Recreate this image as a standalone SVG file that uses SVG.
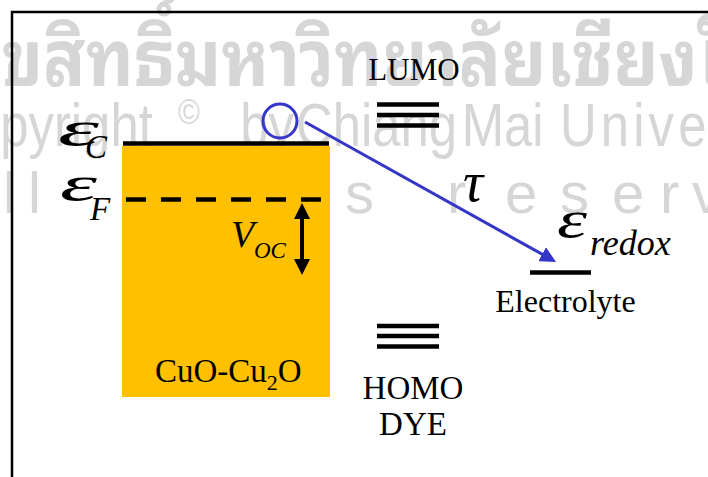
<svg xmlns="http://www.w3.org/2000/svg" width="708" height="477" viewBox="0 0 708 477">
  <style>
    .wm { fill: #d6d6d6; font-family: "Liberation Sans", Arial, sans-serif; }
    .wmth { fill: #d6d6d6; font-family: "Noto Sans Thai Looped", "Noto Serif Thai", Loma, Garuda, Norasi, "Noto Sans Thai", "Liberation Sans", sans-serif; font-weight: bold; }
    .lbl { font-family: "Liberation Serif", "Times New Roman", serif; fill: #000; }
    .it { font-family: "Liberation Serif", "Times New Roman", serif; font-style: italic; fill: #000; }
    .lvl { stroke: #000; stroke-width: 4.5; fill: none; }
  </style>
  <defs>
    <marker id="headBlue" viewBox="0 0 16 16" refX="6" refY="8" markerWidth="16" markerHeight="16" markerUnits="userSpaceOnUse" orient="auto">
      <path d="M0,0 L16,8 L0,16 z" fill="#3535C8"/>
    </marker>
    <marker id="headBlack" viewBox="0 0 16 16" refX="6" refY="8" markerWidth="16" markerHeight="16" markerUnits="userSpaceOnUse" orient="auto-start-reverse">
      <path d="M0,0 L16,8 L0,16 z" fill="#000"/>
    </marker>
  </defs>
  <rect width="708" height="477" fill="#fff"/>

  <!-- watermark -->
  <g id="watermark">
    <g transform="translate(-5,0) scale(0.9,1)">
      <text class="wmth" x="-40" y="86" font-size="78">ลิขสิทธิ์มหาวิทยาลัยเชียงใหม่</text>
    </g>
    <g transform="scale(0.82,1)">
      <text class="wm" y="146" font-size="62"><tspan x="-79">Copyright</tspan><tspan x="217" dy="-22" font-size="36">©</tspan><tspan x="293" dy="22">by</tspan><tspan x="361">Chiang</tspan><tspan x="563">Mai</tspan><tspan x="683" letter-spacing="5">University</tspan></text>
    </g>
    <text class="wm" y="213" font-size="58" x="-38 3 28 100 140 170 190 230 270 345 420 447 505 560 612 660 692 745 790">All rights reserved</text>
  </g>

  <!-- frame -->
  <path id="frame" d="M12,477 V12 H708" fill="none" stroke="#000" stroke-width="2.5"/>

  <g id="semiconductor">
    <rect x="122" y="146" width="208" height="251" fill="#FFC000"/>
    <text class="lbl" x="155" y="381.7" font-size="33">CuO-Cu<tspan font-size="22" dy="8">2</tspan><tspan dy="-8">O</tspan></text>
  </g>

  <g id="conduction-band">
    <line class="lvl" x1="123" y1="143.5" x2="329" y2="143.5"/>
    <text class="it" x="58" y="146" font-size="50" textLength="41" lengthAdjust="spacingAndGlyphs">ε</text>
    <text class="it" x="85" y="158" font-size="33">C</text>
  </g>

  <g id="fermi-level">
    <line class="lvl" x1="126" y1="199.5" x2="321" y2="199.5" stroke-dasharray="20 15"/>
    <text class="it" x="60" y="201" font-size="50" textLength="37" lengthAdjust="spacingAndGlyphs">ε</text>
    <text class="it" x="90" y="220" font-size="33">F</text>
  </g>

  <g id="voc">
    <text class="it" x="231" y="247" font-size="38">V</text>
    <text class="it" x="254" y="258" font-size="23">OC</text>
  </g>

  <g id="lumo">
    <text class="lbl" x="414" y="80" font-size="31" text-anchor="middle">LUMO</text>
    <line class="lvl" x1="377" y1="104.5" x2="439" y2="104.5"/>
    <line class="lvl" x1="377" y1="115" x2="439" y2="115"/>
    <line class="lvl" x1="377" y1="125.5" x2="439" y2="125.5"/>
  </g>

  <g id="homo">
    <line class="lvl" x1="377" y1="326" x2="439" y2="326"/>
    <line class="lvl" x1="377" y1="336" x2="439" y2="336"/>
    <line class="lvl" x1="377" y1="346.5" x2="439" y2="346.5"/>
    <text class="lbl" x="413" y="399" font-size="33" text-anchor="middle">HOMO</text>
    <text class="lbl" x="413" y="435" font-size="33" text-anchor="middle">DYE</text>
  </g>

  <g id="electron">
    <circle cx="280" cy="121" r="17" fill="none" stroke="#3535C8" stroke-width="3"/>
  </g>

  <g id="electrolyte">
    <line class="lvl" x1="530" y1="272.5" x2="591" y2="272.5"/>
    <text class="it" x="557" y="237" font-size="52" textLength="30" lengthAdjust="spacingAndGlyphs">ε</text>
    <text class="it" x="590" y="255" font-size="36">redox</text>
    <text class="lbl" x="565.5" y="311.7" font-size="32" text-anchor="middle">Electrolyte</text>
  </g>

  <g id="connectors">
    <line x1="305" y1="122" x2="547.3" y2="257.1" stroke="#3535C8" stroke-width="3" marker-end="url(#headBlue)"/>
    <text class="it" x="463" y="201" font-size="56">τ</text>
    <line x1="302" y1="213" x2="302" y2="265" stroke="#000" stroke-width="4" marker-start="url(#headBlack)" marker-end="url(#headBlack)"/>
  </g>
</svg>
